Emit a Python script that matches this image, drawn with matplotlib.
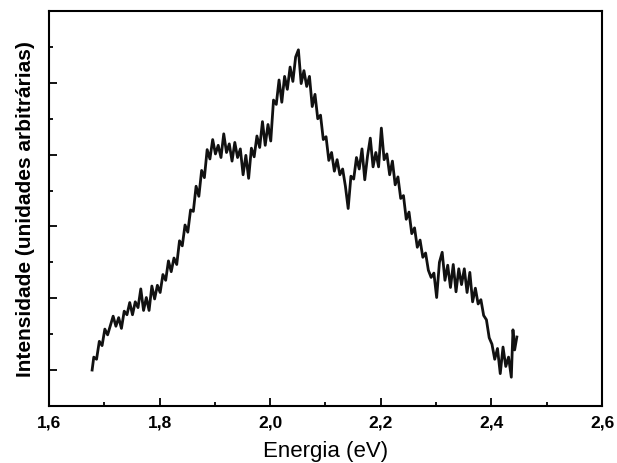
import matplotlib
matplotlib.use("Agg")
import matplotlib.pyplot as plt
from matplotlib.ticker import MultipleLocator

# Espectro (energia em eV, intensidade em unidades arbitrárias)
energia = [
    1.678, 1.681, 1.686, 1.691, 1.696, 1.701, 1.706, 1.711, 1.716, 1.721,
    1.726, 1.731, 1.736, 1.741, 1.746, 1.751, 1.756, 1.761, 1.766, 1.771,
    1.776, 1.781, 1.786, 1.791, 1.796, 1.801, 1.806, 1.811, 1.816, 1.821,
    1.826, 1.831, 1.836, 1.841, 1.846, 1.851, 1.856, 1.861, 1.866, 1.871,
    1.876, 1.881, 1.886, 1.891, 1.896, 1.901, 1.906, 1.911, 1.916, 1.921,
    1.926, 1.931, 1.936, 1.941, 1.946, 1.951, 1.956, 1.961, 1.966, 1.971,
    1.976, 1.981, 1.986, 1.991, 1.996, 2.001, 2.006, 2.011, 2.016, 2.021,
    2.026, 2.031, 2.036, 2.041, 2.046, 2.051, 2.056, 2.061, 2.066, 2.071,
    2.076, 2.081, 2.086, 2.091, 2.096, 2.101, 2.106, 2.111, 2.116, 2.121,
    2.126, 2.131, 2.136, 2.141, 2.146, 2.151, 2.156, 2.161, 2.166, 2.171,
    2.176, 2.181, 2.186, 2.191, 2.196, 2.201, 2.206, 2.211, 2.216, 2.221,
    2.226, 2.231, 2.236, 2.241, 2.246, 2.251, 2.256, 2.261, 2.266, 2.271,
    2.276, 2.281, 2.286, 2.291, 2.296, 2.301, 2.306, 2.311, 2.316, 2.321,
    2.326, 2.331, 2.336, 2.341, 2.346, 2.351, 2.356, 2.361, 2.366, 2.371,
    2.376, 2.381, 2.386, 2.391, 2.396, 2.401, 2.406, 2.411, 2.416, 2.421,
    2.426, 2.431, 2.436, 2.439, 2.442, 2.446,
]
intensidade = [
    1.00, 1.18, 1.15, 1.40, 1.34, 1.57, 1.49, 1.62, 1.75, 1.61,
    1.73, 1.58, 1.82, 1.77, 1.94, 1.77, 1.95, 1.87, 2.13, 1.83,
    2.01, 1.83, 2.17, 1.99, 2.18, 2.08, 2.33, 2.25, 2.52, 2.37,
    2.56, 2.47, 2.80, 2.73, 3.02, 2.92, 3.23, 3.21, 3.56, 3.42,
    3.78, 3.68, 4.07, 3.94, 4.21, 4.01, 4.13, 3.96, 4.29, 4.03,
    4.15, 3.91, 4.17, 3.96, 4.08, 3.72, 3.99, 3.67, 4.09, 3.97,
    4.26, 4.10, 4.46, 4.13, 4.42, 4.19, 4.76, 4.70, 5.04, 4.73,
    5.09, 4.91, 5.22, 5.02, 5.36, 5.46, 4.99, 5.17, 4.95, 5.09,
    4.67, 4.84, 4.50, 4.55, 4.21, 4.25, 3.92, 4.03, 3.77, 3.93,
    3.72, 3.80, 3.56, 3.25, 3.70, 3.66, 3.96, 3.80, 4.08, 3.65,
    3.98, 4.23, 3.83, 4.03, 3.83, 4.37, 3.93, 4.01, 3.72, 3.91,
    3.58, 3.69, 3.39, 3.43, 3.10, 3.20, 2.90, 2.98, 2.71, 2.81,
    2.57, 2.63, 2.39, 2.29, 2.35, 2.01, 2.50, 2.64, 2.25, 2.46,
    2.15, 2.47, 2.09, 2.41, 2.19, 2.41, 2.08, 2.36, 1.95, 2.14,
    1.92, 1.98, 1.76, 1.70, 1.45, 1.36, 1.15, 1.30, 0.95, 1.32,
    1.05, 1.18, 0.90, 1.56, 1.28, 1.46,
]

xticks = [1.6, 1.8, 2.0, 2.2, 2.4, 2.6]
xtick_labels = ["1,6", "1,8", "2,0", "2,2", "2,4", "2,6"]

plt.rcParams['font.family'] = ['Liberation Sans', 'DejaVu Sans']

fig = plt.figure(figsize=(6.17, 4.64), dpi=100)
ax = fig.add_axes([0.0794, 0.123, 0.8963, 0.851])

ax.plot(energia, intensidade, color="#111111", linewidth=2.0)

ax.set_xlim(1.6, 2.6)
ax.set_ylim(0.5, 6.0)
ax.set_xticks(xticks)
ax.set_xticklabels(xtick_labels, fontweight="bold", fontsize=12.5)
ax.xaxis.set_minor_locator(MultipleLocator(0.1))
ax.yaxis.set_major_locator(MultipleLocator(1.0))
ax.yaxis.set_minor_locator(MultipleLocator(0.5))
ax.set_yticklabels([])

ax.tick_params(which="both", direction="in", top=False, right=False, width=1.3)
ax.tick_params(which="major", length=6, pad=6)
ax.tick_params(which="minor", length=3)
for s in ax.spines.values():
    s.set_linewidth(1.5)

ax.set_xlabel("Energia (eV)", fontsize=16, labelpad=8)
ax.set_ylabel("Intensidade (unidades arbitrárias)", fontsize=15,
              fontweight="bold", labelpad=4)

fig.savefig("out.png", dpi=100)
